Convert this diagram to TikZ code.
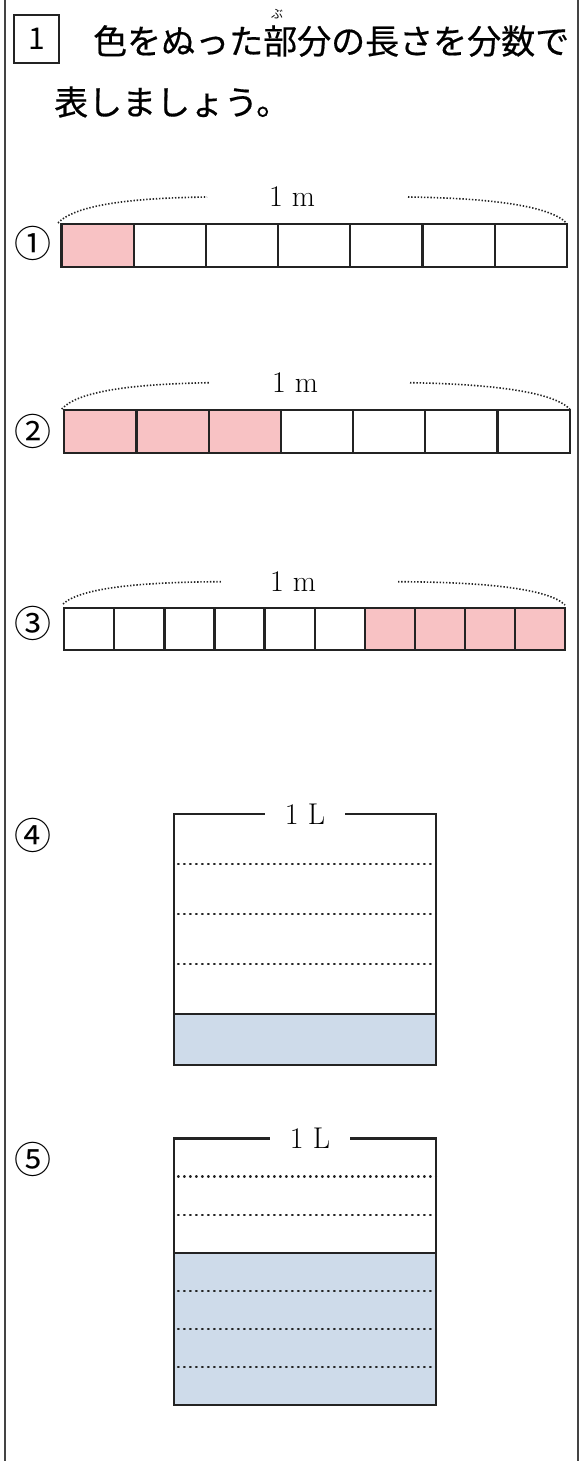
\documentclass[tikz,border=0pt]{standalone}
\usepackage{fontspec}
\usepackage{tikz}
\newfontfamily\jpfont{Noto Sans CJK JP}
\newfontfamily\jpbold[FakeBold=0.5]{Noto Sans CJK JP}
\definecolor{pinkfill}{RGB}{248,194,196}
\definecolor{bluefill}{RGB}{206,219,234}
\definecolor{ink}{RGB}{35,35,35}

\begin{document}
\begin{tikzpicture}[x=1pt, y=-1pt,
  pageline/.style={draw=ink!85, line width=2pt},
  cell/.style={draw=ink, line width=2.2pt},
  spanline/.style={draw=ink, line width=1.6pt, dash pattern=on 1.4pt off 1.8pt},
  lvl/.style={draw=ink, line width=2.2pt, dash pattern=on 0.8pt off 5.2pt, line cap=round},
  lab/.style={font=\fontsize{30}{30}\selectfont, inner sep=1pt},
  litlab/.style={lab, inner xsep=20pt, inner ysep=2pt},
  num/.style={font=\jpfont\fontsize{37}{37}\selectfont, inner sep=0pt},
  headline/.style={font=\jpbold\fontsize{34}{34}\selectfont, inner sep=0pt, anchor=west}]
\useasboundingbox (0,0) rectangle (582,1461);
\draw[pageline] (5,0) -- (5,1461);
\draw[pageline] (578,0) -- (578,1461);

% heading
\node[draw=ink, line width=2pt, minimum width=45pt, minimum height=48pt, inner sep=0pt,
      font=\jpfont\fontsize{30}{30}\selectfont] (q) at (36.5,39) {1};
\node[headline] (t1) at (93,41) {色をぬった部分の長さを分数で};
\node[headline] (t2) at (54,102) {表しましょう。};
\node[font=\jpfont\fontsize{12}{12}\selectfont, inner sep=0pt] (ruby) at (277,14) {ぶ};

% 1: 1/7
\node[num] (c1) at (33,243) {①};
\fill[pinkfill] (61.5,224) rectangle ++(72.2,43);
\foreach \i in {0,...,6}
  \draw[cell] ({61.5+72.2*\i},224) rectangle ++(72.2,43);
\node[lab] (m1) at (292,197) {1 m};
\draw[spanline] (58,223) .. controls (75,205) and (130,198) .. (207,197);
\draw[spanline] (408,197) .. controls (485,198) and (549,205) .. (566.5,223);

% 2: 3/7
\node[num] (c2) at (33,431) {②};
\fill[pinkfill] (64.3,410) rectangle ++(216.6,42.7);
\foreach \i in {0,...,6}
  \draw[cell] ({64.3+72.2*\i},410) rectangle ++(72.2,42.7);
\node[lab] (m2) at (295,383) {1 m};
\draw[spanline] (61.7,409) .. controls (78,391) and (133,384) .. (210,382.7);
\draw[spanline] (410,382.7) .. controls (487,384) and (552,391) .. (569.8,409);

% 3: 4/10
\node[num] (c3) at (33,623) {③};
\fill[pinkfill] (364.7,608.3) rectangle ++(200.3,41.7);
\foreach \i in {0,...,9}
  \draw[cell] ({64.3+50.07*\i},608.3) rectangle ++(50.07,41.7);
\node[lab] (m3) at (293,582) {1 m};
\draw[spanline] (63,604) .. controls (80,588) and (140,582) .. (222,581.7);
\draw[spanline] (398,581.7) .. controls (480,582) and (548,588) .. (565,605);

% 4: 1/5 L
\node[num] (c4) at (33,835) {④};
\fill[bluefill] (174,1014) rectangle (436,1065);
\draw[cell] (174,1014) -- (436,1014);
\foreach \y in {864,914,964,1014}
  \draw[lvl] (178,\y) -- (436,\y);
\node[litlab] (l4) at (305,814) {1 L};
\draw[cell] (l4.west) -- (174,814) -- (174,1065) -- (436,1065) -- (436,814) -- (l4.east);

% 5: 4/7 L
\node[num] (c5) at (33,1159) {⑤};
\fill[bluefill] (174,1252.7) rectangle (436,1405);
\draw[cell] (174,1252.7) -- (436,1252.7);
\foreach \k in {1,...,6}
  \draw[lvl] (178,{1138.5+38.07*\k}) -- (436,{1138.5+38.07*\k});
\node[litlab] (l5) at (310,1138.5) {1 L};
\draw[cell] (l5.west) -- (174,1138.5) -- (174,1405) -- (436,1405) -- (436,1138.5) -- (l5.east);
\end{tikzpicture}
\end{document}
